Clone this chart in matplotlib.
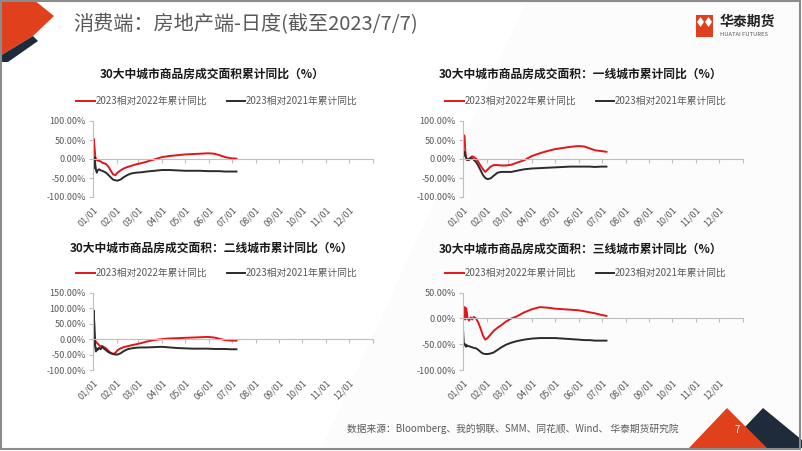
import numpy as np
import matplotlib
matplotlib.use('Agg')
import matplotlib.pyplot as plt
from matplotlib.patches import Polygon, Rectangle

plt.rcParams['font.family'] = ['Noto Sans CJK SC', 'DejaVu Sans']

W, H = 802, 451

# days since Jan 1, 2023 (shared sampling for all series)
days = [0, 1, 2, 3, 4, 5, 6, 8, 10, 12, 14, 17, 20, 23, 26, 29, 32, 36, 40, 45, 50,
        56, 63, 70, 80, 90, 100, 110, 120, 130, 140, 150, 158, 165, 172, 180, 187]

# 30 cities total
all_vs22 = [18, 53, 30, 5, 0, -3, -4, -5, -6, -10, -11, -13, -20, -30, -40, -43, -36, -30, -25, -21, -18,
            -14, -11, -7, -1, 5, 8, 10, 12, 13, 14, 15, 14, 10, 5, 2, 1]
all_vs21 = [8, -25, 5, -15, -30, -36, -30, -27, -30, -31, -33, -36, -42, -48, -54, -56, -57, -54, -48, -42, -38,
            -36, -35, -33, -31, -29, -29, -30, -31, -31, -31, -32, -32, -32, -33, -33, -33]
# tier-1 cities
t1_vs22 = [58, 63, 60, 20, 5, 0, -2, -3, 4, 7, 5, 1, -8, -18, -27, -34, -28, -20, -16, -16, -17,
           -17, -15, -10, -3, 8, 15, 21, 26, 29, 32, 34, 33, 28, 23, 21, 19]
t1_vs21 = [5, 12, 19, 8, 3, -2, -3, 1, 2, 1, -2, -8, -18, -30, -42, -50, -53, -51, -44, -36, -34,
           -34, -34, -31, -27, -25, -24, -23, -22, -21, -20, -20, -20, -20, -21, -20, -20]
# tier-2 cities
t2_vs22 = [95, 88, 20, -5, -10, -12, -14, -20, -24, -22, -26, -30, -38, -44, -48, -45, -36, -30, -26, -23, -20,
           -17, -13, -8, -3, 0, 2, 3, 4, 5, 6, 7, 5, 1, -3, -5, -5]
t2_vs21 = [-68, 92, 20, -25, -40, -30, -35, -28, -33, -25, -30, -36, -42, -46, -48, -50, -50, -46, -39, -33, -30,
           -28, -27, -27, -26, -25, -27, -29, -30, -31, -31, -31, -32, -32, -32, -33, -33]
# tier-3 cities
t3_vs22 = [25, 0, 22, -2, 20, 12, 0, -4, 2, -2, 3, 0, -8, -20, -33, -41, -38, -31, -24, -18, -13,
           -6, 0, 4, 12, 18, 22, 21, 19, 18, 17, 16, 14, 12, 10, 7, 5]
t3_vs21 = [-20, -48, -52, -50, -55, -52, -53, -54, -55, -56, -57, -58, -61, -65, -68, -69, -69, -68, -66, -61, -56,
           -51, -47, -44, -41, -39, -38, -38, -38, -39, -40, -41, -42, -42, -43, -43, -43]

month_starts = [0, 31, 59, 90, 120, 151, 181, 212, 243, 273, 304, 334]
month_labels = ['%02d/01' % m for m in range(1, 13)]

titles = ['30大中城市商品房成交面积累计同比（%）',
          '30大中城市商品房成交面积：一线城市累计同比（%）',
          '30大中城市商品房成交面积：二线城市累计同比（%）',
          '30大中城市商品房成交面积：三线城市累计同比（%）']
legend_labels = ['2023相对2022年累计同比', '2023相对2021年累计同比']

RED = '#e3151b'
DARK = '#2b2b2b'
GREY = '#595959'
AXC = '#bfbfbf'

fig = plt.figure(figsize=(W / 100, H / 100), dpi=100)


def fx(x):
    return x / W


def fy(y):
    return 1 - y / H


def add_shape(pts, color, z=1):
    fig.patches.append(Polygon([(fx(a), fy(b)) for a, b in pts], closed=True,
                               transform=fig.transFigure, facecolor=color,
                               edgecolor='none', zorder=z))


# slide decoration
add_shape([(527, 0), (802, 0), (802, 451), (320, 451)], '#fcfcfc', z=-2)
add_shape([(0, 0), (34, 0), (54, 16), (33, 36), (0, 56)], '#e0401c')
add_shape([(33, 36), (38, 41), (8, 62), (0, 62), (0, 56)], '#1f2a3a')
add_shape([(763, 408), (802, 440), (802, 448), (725, 448)], '#1f2a3a')
add_shape([(727, 408), (767, 448), (689, 448)], '#e0401c')
fig.patches.append(Rectangle((0.001, 0.004), 0.997, 0.994, transform=fig.transFigure,
                             facecolor='none', edgecolor='#8c8c8c', linewidth=1.5))
fig.text(fx(737), fy(430), '7', color='white', fontsize=7, ha='center', va='center')

fig.text(fx(73), fy(25), '消费端：房地产端-日度(截至2023/7/7)', color=GREY, fontsize=14.5,
         ha='left', va='center')
# logo
fig.patches.append(Rectangle((fx(696), fy(37)), fx(17), 22 / H, transform=fig.transFigure,
                             facecolor='#e0401c', edgecolor='none'))
for cx in (700.5, 708.5):
    add_shape([(cx, 17), (cx + 3.5, 22), (cx, 27), (cx - 3.5, 22)], 'white', z=2)
fig.text(fx(720), fy(22), '华泰期货', color='#222222', fontsize=10, fontweight='bold', ha='left', va='center')
fig.text(fx(720), fy(35), 'HUATAI FUTURES', color='#555555', fontsize=4.2, ha='left', va='center')

fig.text(fx(347), fy(429), '数据来源：Bloomberg、我的钢联、SMM、同花顺、Wind、 华泰期货研究院',
         color=GREY, fontsize=7, ha='left', va='center')

# chart panels: (left, top, bottom) in px, y ticks, title pos, legend pos, data
panels = [
    (93, 121, 197, [-100, -50, 0, 50, 100], (212, 74), (217, 101), all_vs22, all_vs21),
    (463, 121, 197, [-100, -50, 0, 50, 100], (581, 74), (586, 101), t1_vs22, t1_vs21),
    (93, 292.7, 370, [-100, -50, 0, 50, 100, 150], (212, 248), (217, 273), t2_vs22, t2_vs21),
    (463, 292.7, 370, [-100, -50, 0, 50], (581, 249), (586, 273), t3_vs22, t3_vs21),
]

for i, (left, top, bottom, yt, tpos, lpos, s22, s21) in enumerate(panels):
    ax = fig.add_axes([fx(left), fy(bottom), 280 / W, (bottom - top) / H])
    ax.set_zorder(5)
    ax.patch.set_alpha(0)
    l1, = ax.plot(days, s22, color=RED, lw=1.4, label=legend_labels[0])
    l2, = ax.plot(days, s21, color=DARK, lw=1.4, label=legend_labels[1])
    ax.set_xlim(0, 365)
    ax.set_ylim(yt[0], yt[-1])
    ax.set_yticks(yt)
    ax.set_yticklabels(['%.2f%%' % v for v in yt])
    for s in ('top', 'right'):
        ax.spines[s].set_visible(False)
    ax.spines['left'].set_color(AXC)
    ax.spines['bottom'].set_color(AXC)
    ax.spines['bottom'].set_position(('data', 0))
    ax.tick_params(axis='y', colors=AXC, labelcolor=GREY, labelsize=6.5, length=3, pad=2)
    ax.set_xticks(month_starts + [365])
    ax.tick_params(axis='x', colors=AXC, length=3, labelbottom=False)
    sec = ax.secondary_xaxis('bottom')
    sec.set_xticks(month_starts)
    sec.set_xticklabels(month_labels, rotation=45, ha='right', rotation_mode='anchor')
    sec.tick_params(length=0, labelsize=6.5, labelcolor=GREY, pad=6)
    sec.spines['bottom'].set_visible(False)

    fig.text(fx(tpos[0]), fy(tpos[1]), titles[i], fontsize=8.5, fontweight='bold',
             color='#1a1a1a', ha='center', va='center')
    ax.legend(handles=[l1, l2], loc='center', bbox_to_anchor=(fx(lpos[0]), fy(lpos[1])),
              bbox_transform=fig.transFigure, ncol=2, frameon=False, fontsize=7,
              labelcolor=GREY, handlelength=1.9, handletextpad=0.1, columnspacing=2.0,
              borderpad=0, borderaxespad=0)

fig.savefig('out.png', dpi=100)
